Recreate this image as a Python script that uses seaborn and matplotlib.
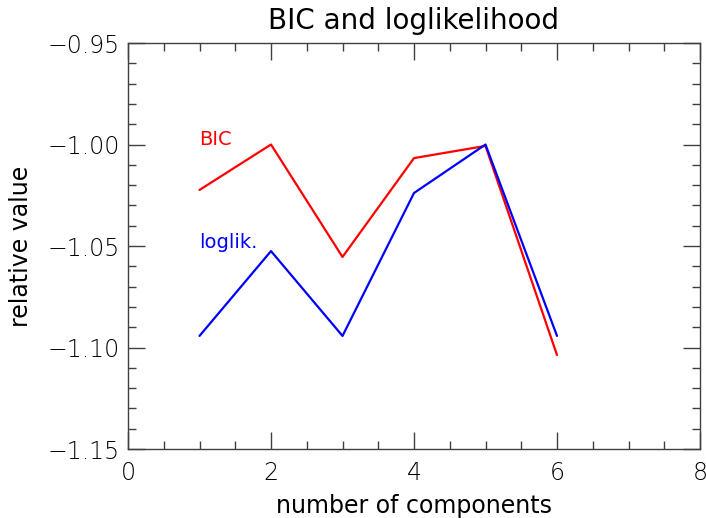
import matplotlib
matplotlib.use("Agg")
import matplotlib.pyplot as plt
from matplotlib.ticker import MultipleLocator
import seaborn as sns
import pandas as pd

components = [1, 2, 3, 4, 5, 6]
bic = [-1.0224, -1.0000, -1.0554, -1.0067, -1.0007, -1.1037]
loglik = [-1.0943, -1.0525, -1.0943, -1.0239, -1.0000, -1.0943]

df = pd.DataFrame({
    "components": components * 2,
    "value": bic + loglik,
    "series": ["BIC"] * len(components) + ["loglik."] * len(components),
})

sns.set_style("ticks")
plt.rcParams["font.family"] = ["DejaVu Sans"]
plt.rcParams["font.weight"] = "light"

fig = plt.figure(figsize=(7.06, 5.18), dpi=100)
ax = fig.add_axes([128 / 706, 1 - 449 / 518, (700 - 128) / 706, (449 - 43) / 518])

sns.lineplot(data=df, x="components", y="value", hue="series",
             palette={"BIC": "#ff0000", "loglik.": "#0000ff"},
             linewidth=1.6, legend=False, ax=ax)

ax.set_xlim(0, 8)
ax.set_ylim(-1.15, -0.95)
ax.xaxis.set_major_locator(MultipleLocator(2))
ax.xaxis.set_minor_locator(MultipleLocator(0.5))
ax.yaxis.set_major_locator(MultipleLocator(0.05))
ax.yaxis.set_minor_locator(MultipleLocator(0.01))
ax.yaxis.set_major_formatter(plt.FuncFormatter(lambda v, p: f"\u2212{abs(v):.2f}"))

ax.tick_params(which="both", direction="in", top=True, right=True,
               color="#404040", width=1.0, labelsize=17, labelcolor="#000000")
ax.tick_params(which="major", length=12)
ax.tick_params(axis="y", which="major", pad=6)
ax.tick_params(axis="x", which="major", pad=9)
ax.tick_params(which="minor", length=6)
for s in ax.spines.values():
    s.set_visible(True)
    s.set_color("#404040")
    s.set_linewidth(1.0)

ax.set_xlabel("number of components", fontsize=17, color="#000000", labelpad=6)
ax.set_ylabel("relative value", fontsize=17, color="#000000", labelpad=10)
ax.set_title("BIC and loglikelihood", fontsize=20, color="#000000", pad=10)

ax.text(1.0, -0.9975, "BIC", color="#ff0000", fontsize=14, fontweight="normal", va="center")
ax.text(1.0, -1.0485, "loglik.", color="#0000ff", fontsize=14, fontweight="normal", va="center")

fig.savefig("out.png", dpi=100)
